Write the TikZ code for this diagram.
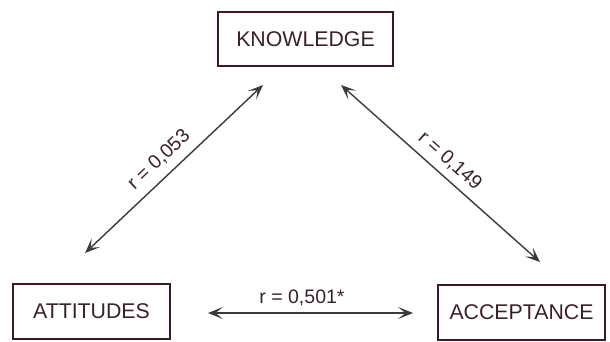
\documentclass[tikz,border=0pt]{standalone}
\usepackage{fontspec}
\setmainfont{Liberation Sans}
\usetikzlibrary{arrows.meta}
\definecolor{boxc}{HTML}{3A1C1E}
\definecolor{txtc}{HTML}{3A2224}
\definecolor{arrc}{HTML}{3A3A3A}
\tikzset{
  varbox/.style={draw=boxc, line width=1.6pt, text=txtc, inner sep=0pt,
    font=\fontsize{21.3}{25}\selectfont, anchor=center},
  corr/.style={draw=arrc, line width=1.4pt,
    {Stealth[length=15pt,width=12pt,inset=7.5pt]}-{Stealth[length=15pt,width=12pt,inset=7.5pt]}},
  lbl/.style={text=txtc, font=\fontsize{19.5}{23}\selectfont, inner sep=0pt}
}
\begin{document}
\begin{tikzpicture}[x=1pt,y=-1pt]
\useasboundingbox (0,0) rectangle (610,341);
\node[varbox, minimum width=175pt, minimum height=54pt] (kno) at (305.5,39) {KNOWLEDGE};
\node[varbox, minimum width=157pt, minimum height=55pt] (att) at (91.5,311.5) {ATTITUDES};
\node[varbox, minimum width=167pt, minimum height=55pt] (acc) at (521.5,312.5) {ACCEPTANCE};
\coordinate (a1) at (85,253);
\coordinate (k1) at (263,85);
\coordinate (k2) at (341,85);
\coordinate (c1) at (540,262);
\coordinate (a2) at (208,313);
\coordinate (c2) at (413,313);
\draw[corr] (a1) -- (k1);
\draw[corr] (k2) -- (c1);
\draw[corr] (a2) -- (c2);
\node[lbl, rotate=43.3] (l1) at (159,160) {r = 0,053};
\node[lbl, rotate=-41.6] (l2) at (450,161) {r = 0,149};
\node[lbl] (l3) at (302,298) {r = 0,501*};
\end{tikzpicture}
\end{document}
